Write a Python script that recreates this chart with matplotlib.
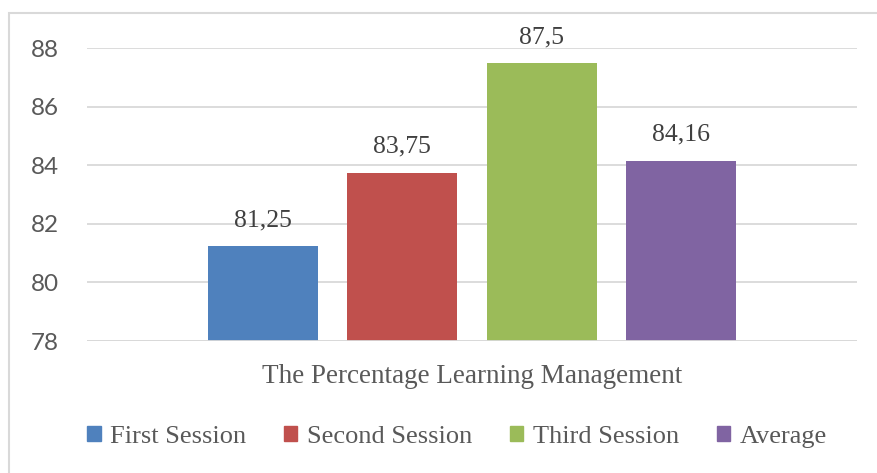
import matplotlib
matplotlib.use("Agg")
import matplotlib.pyplot as plt
import numpy as np

# chart data
series = ['First Session', 'Second Session', 'Third Session', 'Average']
values = [81.25, 83.75, 87.5, 84.16]
labels = ['81,25', '83,75', '87,5', '84,16']
category = 'The Percentage Learning Management'
yticks = [78, 80, 82, 84, 86, 88]

colors = ['#4F81BD', '#C0504D', '#9BBB59', '#8064A2']
serif = 'Liberation Serif'
sans = 'Lato'

fig = plt.figure(figsize=(8.78, 4.73), dpi=100)
ax = fig.add_axes([87/878, 1-341/473, 770/878, 293/473])

width = 0.143
step = 0.181
x = (np.arange(len(series)) - 1.5) * step
bars = ax.bar(x, np.array(values) - 78, width, bottom=78, color=colors, label=series, zorder=3)

for b, lab in zip(bars, labels):
    ax.text(b.get_x() + b.get_width()/2, b.get_y() + b.get_height() + 0.5, lab,
            ha='center', va='bottom', fontsize=18.5, family=serif, color='#404040')

ax.set_xlim(-0.5, 0.5)
ax.set_ylim(78, 88)
ax.set_yticks(yticks)
ax.set_yticklabels([str(t) for t in yticks], fontsize=17.5, family=sans, color='#595959')
ax.set_xticks([])
ax.tick_params(axis='y', length=0, pad=20)
ax.yaxis.grid(True, color='#D9D9D9', linewidth=1.3, zorder=0)
for s in ax.spines.values():
    s.set_visible(False)
ax.axhline(78, color='#D9D9D9', linewidth=1.3, zorder=4)

fig.text(472/878, 1-376/473, category, ha='center', va='center', fontsize=19.5,
         family=serif, color='#595959')

handles = [plt.Rectangle((0, 0), 1, 1, color=c) for c in colors]
fig.legend(handles, series, loc='center', bbox_to_anchor=(457/878, 1-437/473), ncol=4,
           frameon=False, prop={'family': serif, 'size': 19}, handlelength=0.5,
           handleheight=0.5, handletextpad=0.35, columnspacing=1.45, labelcolor='#595959')

# outer border of the chart area
fig.add_artist(plt.Rectangle((9/878, -0.01), 1.0, 1-13/473+0.01, transform=fig.transFigure,
                             fill=False, edgecolor='#D9D9D9', linewidth=1.5))

fig.savefig('out.png', dpi=100)
